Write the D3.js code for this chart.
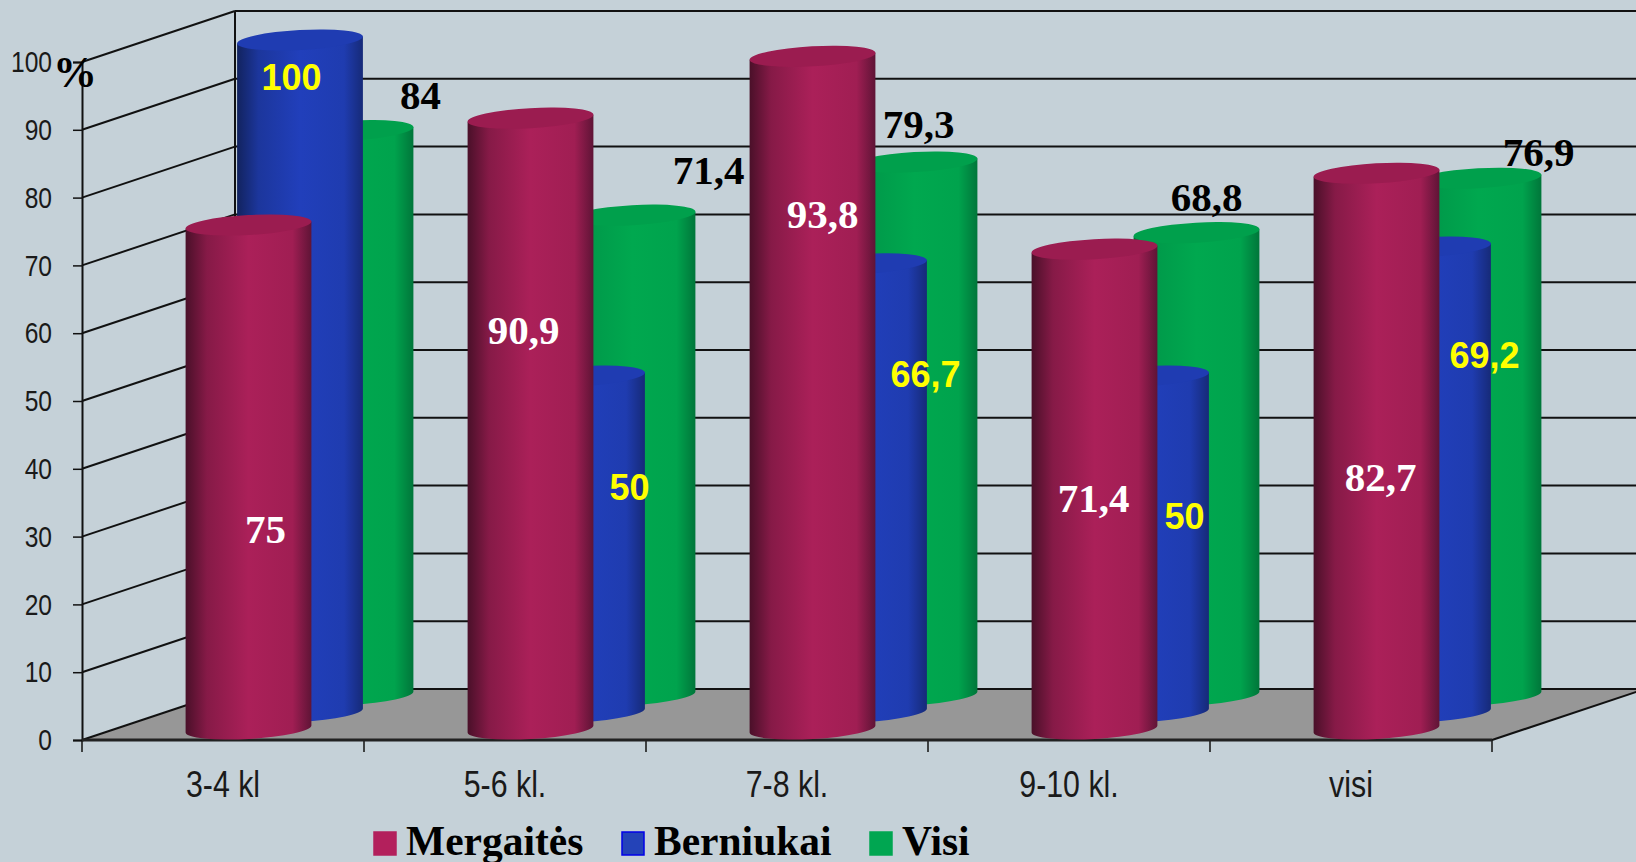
<!DOCTYPE html>
<html>
<head>
<meta charset="utf-8">
<script src="https://cdn.jsdelivr.net/npm/d3@7/dist/d3.min.js"></script>
<style>
  body { margin: 0; background: #c5d1d8; overflow: hidden; }
  svg { display: block; }
</style>
</head>
<body>
<script>
var categories = ["3-4 kl", "5-6 kl.", "7-8 kl.", "9-10 kl.", "visi"];
var seriesNames = ["Mergaitės", "Berniukai", "Visi"];
// 7-8 kl. cylinder is drawn taller in the picture than its printed 93,8
var mergaites = [75, 90.9, 100.1, 71.4, 82.7];
var mergaitesText = ["75", "90,9", "93,8", "71,4", "82,7"];
var berniukai = [100, 50, 66.7, 50, 69.2];
var berniukaiText = ["100", "50", "66,7", "50", "69,2"];
var visi = [84, 71.4, 79.3, 68.8, 76.9];
var visiText = ["84", "71,4", "79,3", "68,8", "76,9"];
var yTicks = [0, 10, 20, 30, 40, 50, 60, 70, 80, 90, 100];

var width = 1636,
  height = 862;

var svg = d3.select("body").append("svg")
  .attr("width", width)
  .attr("height", height);

var serif = "'Liberation Serif', 'Times New Roman', serif";
var sans = "'Liberation Sans', Arial, sans-serif";
var squeeze = 0.82;  // axis text in the original is condensed

// front plane of the box, the back wall is the same thing shifted by depth
var x = d3.scaleBand().domain(categories).range([82, 1492]);
var y = d3.scaleLinear().domain([0, 100]).range([740, 62]);
var depth = { x: 153, y: -51 };

// cylinders
var rx = 63, ry = 10, tilt = -3.2;
var barHeight = d3.scaleLinear().domain([0, 100]).range([0, 672]);
var tiltRad = tilt * Math.PI / 180;

var series = [
  { name: seriesNames[0], values: mergaites, text: mergaitesText, dx: 166.5, base: 729,
    stops: ["#4a1029", "#861a47", "#ab2059", "#a01e53", "#5f1436"], top: "#9b1c50",
    swatch: "#b3205c", swatchLine: "#b3205c",
    labelColor: "#fff", labelFont: serif, labelSize: 41 },
  { name: seriesNames[1], values: berniukai, text: berniukaiText, dx: 218, base: 712,
    stops: ["#12235f", "#1c369c", "#213fbb", "#1f3cb0", "#162a78"], top: "#1f3cb2",
    swatch: "#2443b8", swatchLine: "#0000e8",
    labelColor: "#ffff00", labelFont: sans, labelSize: 36 },
  { name: seriesNames[2], values: visi, text: visiText, dx: 268.5, base: 695,
    stops: ["#006c34", "#009a4a", "#00a84f", "#00a34d", "#00763a"], top: "#00a04c",
    swatch: "#00a651", swatchLine: "#00a651",
    labelColor: "#000", labelFont: serif, labelSize: 41 }
];

// how far each value label was dragged from the top of its cylinder
var labelNudgeX = [
  [17, -7, 10, -1, 4],
  [-8.5, 47.5, 61.5, 38.5, 56.5],
  [70, 76, 4, 10, 60]
];
var labelNudgeY = [
  [304, 211, 157, 248, 303],
  [37, 111, 111, 140, 108],
  [-36, -46, -38, -36, -27]
];

var defs = svg.append("defs");
series.forEach(function(s, i) {
  var g = defs.append("linearGradient").attr("id", "cyl" + i);
  [0, 0.17, 0.5, 0.85, 1].forEach(function(o, j) {
    g.append("stop").attr("offset", o).attr("stop-color", s.stops[j]);
  });
});

// floor
svg.append("polygon")
  .attr("points", [
    [x.range()[0], y(0)],
    [x.range()[0] + depth.x, y(0) + depth.y],
    [x.range()[1] + depth.x, y(0) + depth.y],
    [x.range()[1], y(0)]
  ].join(" "))
  .attr("fill", "#979797");

// grid on the two walls
var grid = svg.append("g").attr("stroke", "#111").attr("stroke-width", 2).attr("fill", "none");

grid.selectAll(".side").data(yTicks).enter().append("line")
  .attr("x1", x.range()[0])
  .attr("y1", function(d) { return y(d); })
  .attr("x2", x.range()[0] + depth.x)
  .attr("y2", function(d) { return y(d) + depth.y; });

grid.selectAll(".back").data(yTicks).enter().append("line")
  .attr("x1", x.range()[0] + depth.x)
  .attr("y1", function(d) { return y(d) + depth.y; })
  .attr("x2", width)
  .attr("y2", function(d) { return y(d) + depth.y; });

grid.append("line")
  .attr("x1", x.range()[0] + depth.x).attr("x2", x.range()[0] + depth.x)
  .attr("y1", y(100) + depth.y).attr("y2", y(0) + depth.y);

// right edge of the floor
grid.append("line")
  .attr("x1", x.range()[1]).attr("y1", y(0))
  .attr("x2", x.range()[1] + depth.x).attr("y2", y(0) + depth.y);

// axes
var yAxis = svg.append("g")
  .attr("transform", "translate(" + x.range()[0] + ",0)")
  .call(d3.axisLeft(y).tickValues(yTicks).tickSize(9).tickPadding(12));
yAxis.select(".domain").attr("stroke", "#111").attr("stroke-width", 2);
yAxis.selectAll("line").attr("stroke", "#111").attr("stroke-width", 1.5);
yAxis.selectAll("text")
  .attr("x", -30 / squeeze)
  .attr("transform", "scale(" + squeeze + ",1)")
  .attr("font-family", sans).attr("font-size", 30).attr("fill", "#1a1a1a");

var xAxis = svg.append("g")
  .attr("transform", "translate(0," + y(0) + ")")
  .call(d3.axisBottom(x).tickSize(0).tickPadding(31));
xAxis.select(".domain").remove();
xAxis.selectAll("text")
  .attr("transform", "scale(" + squeeze + ",1)")
  .attr("font-family", sans).attr("font-size", 37).attr("fill", "#1a1a1a");

// tick marks sit between the categories, not under them
svg.append("g").selectAll("line")
  .data(d3.range(categories.length + 1)).enter().append("line")
  .attr("x1", function(d) { return x.range()[0] + d * x.step(); })
  .attr("x2", function(d) { return x.range()[0] + d * x.step(); })
  .attr("y1", y(0))
  .attr("y2", y(0) + 12)
  .attr("stroke", "#111")
  .attr("stroke-width", 1.5);

svg.append("line")
  .attr("x1", x.range()[0]).attr("x2", x.range()[1])
  .attr("y1", y(0)).attr("y2", y(0))
  .attr("stroke", "#222").attr("stroke-width", 3);

function cylinderBody(cx, top, base) {
  var ox = rx * Math.cos(tiltRad), oy = rx * Math.sin(tiltRad);
  return "M" + (cx - ox) + "," + (top - oy) +
    "L" + (cx - ox) + "," + (base - oy) +
    "A" + rx + "," + ry + " " + tilt + " 0 0 " + (cx + ox) + "," + (base + oy) +
    "L" + (cx + ox) + "," + (top + oy) +
    "Z";
}

// back row first so the front cylinders cover the others
var bars = svg.append("g");
d3.range(series.length - 1, -1, -1).forEach(function(si) {
  var s = series[si];
  var g = bars.append("g");
  var items = categories.map(function(c, i) {
    return {
      cx: x.range()[0] + i * x.step() + s.dx,
      top: s.base - barHeight(s.values[i]),
      base: s.base
    };
  });
  g.selectAll("path").data(items).enter().append("path")
    .attr("d", function(d) { return cylinderBody(d.cx, d.top, d.base); })
    .attr("fill", "url(#cyl" + si + ")");
  g.selectAll("ellipse").data(items).enter().append("ellipse")
    .attr("rx", rx)
    .attr("ry", ry)
    .attr("transform", function(d) {
      return "translate(" + d.cx + "," + d.top + ") rotate(" + tilt + ")";
    })
    .attr("fill", s.top);
});

// value labels on top of everything
series.forEach(function(s, si) {
  svg.append("g").selectAll("text").data(s.text).enter().append("text")
    .attr("x", function(d, i) { return x.range()[0] + i * x.step() + s.dx + labelNudgeX[si][i]; })
    .attr("y", function(d, i) { return s.base - barHeight(s.values[i]) + labelNudgeY[si][i]; })
    .attr("dy", "0.35em")
    .attr("text-anchor", "middle")
    .attr("font-family", s.labelFont)
    .attr("font-weight", "bold")
    .attr("font-size", s.labelSize)
    .attr("fill", s.labelColor)
    .text(function(d) { return d; });
});

// the % sign next to the 100 tick
svg.append("text")
  .attr("x", 75).attr("y", 87)
  .attr("text-anchor", "middle")
  .attr("font-family", serif)
  .attr("font-weight", "bold")
  .attr("font-size", 44)
  .attr("fill", "#000")
  .text("%");

// legend
var legendX = [374, 622, 870];
var legend = svg.append("g");
series.forEach(function(s, i) {
  legend.append("rect")
    .attr("x", legendX[i]).attr("y", 832)
    .attr("width", 22).attr("height", 23)
    .attr("fill", s.swatch)
    .attr("stroke", s.swatchLine)
    .attr("stroke-width", 1.5);
  legend.append("text")
    .attr("x", legendX[i] + 32).attr("y", 855)
    .attr("font-family", serif)
    .attr("font-weight", "bold")
    .attr("font-size", 41.5)
    .attr("fill", "#000")
    .text(s.name);
});
</script>
</body>
</html>
